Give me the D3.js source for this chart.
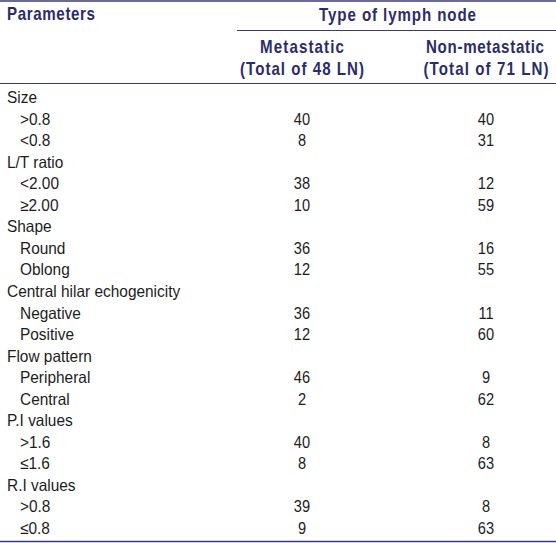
<!DOCTYPE html>
<html>
<head>
<meta charset="utf-8">
<script src="https://cdn.jsdelivr.net/npm/d3@7"></script>
<style>
  html, body { margin: 0; padding: 0; background: #fff; }
  svg { display: block; }
</style>
</head>
<body>
<svg id="chart" width="556" height="543"></svg>
<script>
// ---- data ----
const headerParam = "Parameters";
const headerSpan = "Type of lymph node";
const columns = ["Metastatic", "Non-metastatic"];
const columnTotals = ["(Total of 48 LN)", "(Total of 71 LN)"];
const groups = ["Size", "L/T ratio", "Shape", "Central hilar echogenicity", "Flow pattern", "P.I values", "R.I values"];
const subLabels = [
  [">0.8", "<0.8"],
  ["<2.00", "≥2.00"],
  ["Round", "Oblong"],
  ["Negative", "Positive"],
  ["Peripheral", "Central"],
  [">1.6", "≤1.6"],
  [">0.8", "≤0.8"]
];
const metastatic = [40, 8, 38, 10, 36, 12, 36, 12, 46, 2, 40, 8, 39, 9];
const nonMetastatic = [40, 31, 12, 59, 16, 55, 11, 60, 9, 62, 8, 63, 8, 63];

// ---- build rows ----
const rows = [];
groups.forEach((g, gi) => {
  rows.push({ label: g, type: "group" });
  subLabels[gi].forEach((s, si) => {
    const k = gi * 2 + si;
    rows.push({ label: s, type: "sub", values: [metastatic[k], nonMetastatic[k]] });
  });
});

const W = 556, H = 543;
const svg = d3.select("#chart");
const navy = "#2c2c6c";
const lineCol = "#3a3a7a";
const font = "'Liberation Sans', Arial, Helvetica, sans-serif";
const textCol = "#1c1c1c";

const x = d3.scalePoint().domain(columns).range([302, 486]);
const y = d3.scalePoint().domain(d3.range(rows.length)).range([97, 528]);

// rules
const rules = [
  { x1: 0, x2: W, y: 1, w: 1.5 },
  { x1: 237, x2: W, y: 30.5, w: 1.2 },
  { x1: 0, x2: W, y: 83.5, w: 1.2 },
  { x1: 0, x2: W, y: 541.5, w: 1.5 }
];
svg.append("g").selectAll("line").data(rules).join("line")
  .attr("x1", d => d.x1).attr("x2", d => d.x2).attr("y1", d => d.y).attr("y2", d => d.y)
  .attr("stroke", lineCol).attr("stroke-width", d => d.w);

// header (condensed bold, letter-spaced)
const sxHead = 0.84;
const headItems = [
  { t: headerParam, cx: 7, y: 20, w: 88, anchor: "start" },
  { t: headerSpan, cx: 397.5, y: 20.5, w: 157, anchor: "middle" },
  { t: columns[0], cx: x(columns[0]), y: 52.5, w: 84, anchor: "middle" },
  { t: columns[1], cx: x(columns[1]) - 1, y: 52.5, w: 118, anchor: "middle" },
  { t: columnTotals[0], cx: x(columns[0]), y: 74.5, w: 124, anchor: "middle" },
  { t: columnTotals[1], cx: x(columns[1]), y: 74.5, w: 125, anchor: "middle" }
];
svg.append("g").attr("fill", navy).attr("font-family", font)
  .attr("font-weight", "bold").attr("font-size", 18)
  .selectAll("text").data(headItems).join("text")
  .attr("transform", d => `translate(${d.cx},${d.y}) scale(${sxHead},1)`)
  .attr("text-anchor", d => d.anchor)
  .attr("textLength", d => d.w / sxHead)
  .attr("lengthAdjust", "spacing")
  .text(d => d.t);

// body labels
const sxBody = 0.935;
svg.append("g").attr("font-family", font).attr("font-size", 16.5).attr("fill", textCol)
  .selectAll("text").data(rows).join("text")
  .attr("transform", (d, i) => `translate(${d.type === "group" ? 7 : 20},${y(i) + 6}) scale(${sxBody},1)`)
  .text(d => d.label);

// values
const sxNum = 0.86;
const valRows = rows.map((r, i) => ({ r, i })).filter(o => o.r.type === "sub");
const vg = svg.append("g").attr("font-family", font).attr("font-size", 17).attr("fill", textCol);
columns.forEach((c, ci) => {
  vg.selectAll("text.c" + ci).data(valRows).join("text").attr("class", "c" + ci)
    .attr("transform", o => `translate(${x(c)},${y(o.i) + 6}) scale(${sxNum},1)`)
    .attr("text-anchor", "middle")
    .text(o => o.r.values[ci]);
});
</script>
</body>
</html>
